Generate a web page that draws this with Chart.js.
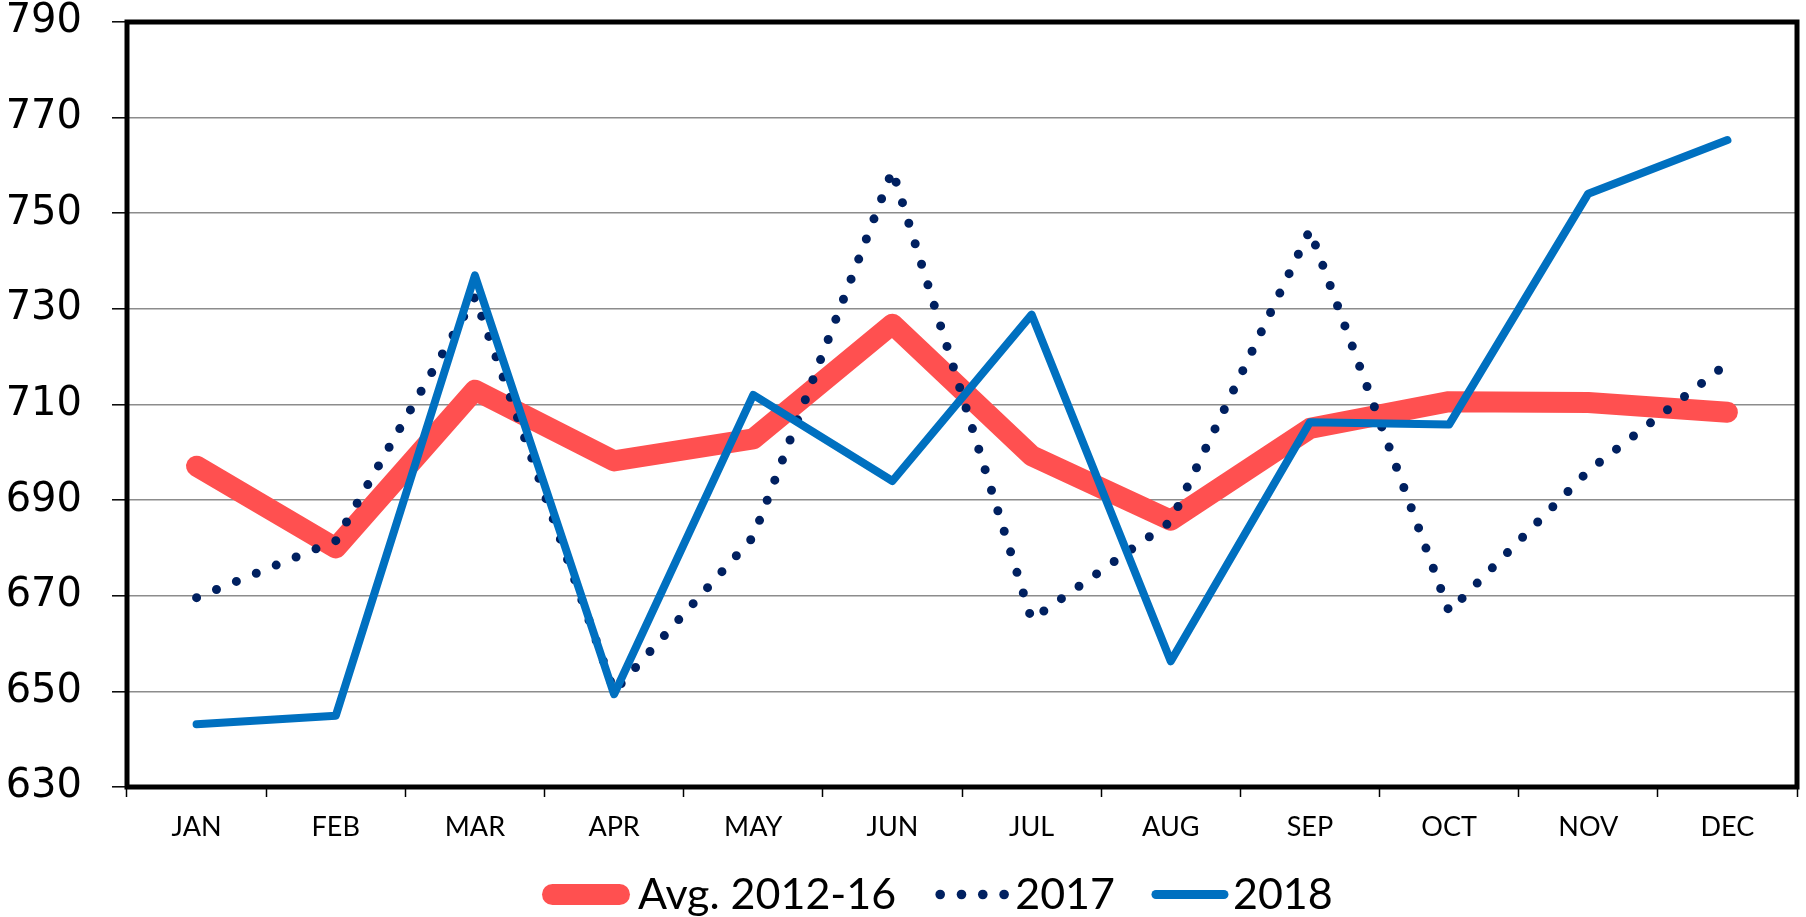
<!DOCTYPE html>
<html>
<head>
<meta charset="utf-8">
<script src="https://cdn.jsdelivr.net/npm/chart.js@4/dist/chart.umd.min.js"></script>
<style>
  html, body { margin: 0; padding: 0; background: #fff; }
  #c { display: block; }
</style>
</head>
<body>
<canvas id="c" width="1806" height="917"></canvas>
<script>
// ---- data ----
const months = ['JAN', 'FEB', 'MAR', 'APR', 'MAY', 'JUN', 'JUL', 'AUG', 'SEP', 'OCT', 'NOV', 'DEC'];
const seriesNames = ['Avg. 2012-16', '2017', '2018'];
const avg2012_16 = [697.1, 680.0, 713.0, 698.2, 702.8, 726.8, 699.3, 685.8, 705.0, 710.6, 710.4, 708.4];
const y2017 = [669.6, 681.5, 732.5, 650.0, 682.3, 759.0, 665.0, 685.5, 746.5, 666.7, 696.1, 718.6];
const y2018 = [643.1, 644.9, 737.0, 649.4, 712.0, 694.0, 728.8, 656.3, 706.3, 705.8, 754.1, 765.3];
const yMin = 630, yMax = 790, yStep = 20;

// ---- styles ----
const RED = '#FF5050';
const NAVY = '#002060';
const BLUE = '#0070C0';

const framePlugin = {
  id: 'frame',
  afterDraw(chart) {
    const { ctx, chartArea: a } = chart;
    ctx.save();
    ctx.strokeStyle = '#000';
    ctx.lineWidth = 5;
    ctx.strokeRect(a.left, a.top, a.right - a.left, a.bottom - a.top);
    ctx.restore();
  }
};

const legendPlugin = {
  id: 'customLegend',
  afterDraw(chart) {
    const ctx = chart.ctx;
    const ds = chart.data.datasets;
    const cy = 894.5;
    const baseline = 909;
    ctx.save();
    ctx.font = '43px Lato, "Open Sans", sans-serif';
    ctx.fillStyle = '#000';
    ctx.textBaseline = 'alphabetic';
    let x = 542;
    const drawText = (t) => {
      ctx.fillText(t, x, baseline);
      x += ctx.measureText(t).width;
    };
    // item 1: thick red
    ctx.lineCap = 'round';
    ctx.strokeStyle = ds[0].borderColor;
    ctx.lineWidth = ds[0].borderWidth;
    ctx.beginPath();
    ctx.moveTo(x + 10.5, cy);
    ctx.lineTo(x + 88 - 10.5, cy);
    ctx.stroke();
    x += 96;
    drawText(ds[0].label);
    x += 39;
    // item 2: dots
    ctx.fillStyle = ds[1].borderColor;
    for (let i = 0; i < 4; i++) {
      ctx.beginPath();
      ctx.arc(x + 5 + i * 21.3, cy, 4.8, 0, Math.PI * 2);
      ctx.fill();
    }
    ctx.fillStyle = '#000';
    x += 80;
    drawText(ds[1].label);
    x += 36;
    // item 3: blue line
    ctx.strokeStyle = ds[2].borderColor;
    ctx.lineWidth = ds[2].borderWidth + 1;
    ctx.beginPath();
    ctx.moveTo(x + 5, cy);
    ctx.lineTo(x + 78 - 5, cy);
    ctx.stroke();
    x += 82;
    drawText(ds[2].label);
    ctx.restore();
  }
};

new Chart(document.getElementById('c'), {
  type: 'line',
  data: {
    labels: months,
    datasets: [
      {
        label: seriesNames[0],
        data: avg2012_16,
        borderColor: RED,
        backgroundColor: RED,
        borderWidth: 21,
        borderCapStyle: 'round',
        borderJoinStyle: 'round',
        pointRadius: 0,
        tension: 0,
        order: 3
      },
      {
        label: seriesNames[1],
        data: y2017,
        borderColor: NAVY,
        backgroundColor: NAVY,
        borderWidth: 9,
        borderDash: [0, 21.5],
        borderCapStyle: 'round',
        borderJoinStyle: 'round',
        pointRadius: 0,
        tension: 0,
        order: 2
      },
      {
        label: seriesNames[2],
        data: y2018,
        borderColor: BLUE,
        backgroundColor: BLUE,
        borderWidth: 8,
        borderCapStyle: 'round',
        borderJoinStyle: 'round',
        pointRadius: 0,
        tension: 0,
        order: 1
      }
    ]
  },
  options: {
    responsive: false,
    animation: false,
    devicePixelRatio: 1,
    layout: { padding: { left: 0, right: 9, top: 22, bottom: 0 } },
    plugins: {
      legend: { display: false },
      tooltip: { enabled: false }
    },
    scales: {
      x: {
        type: 'category',
        offset: true,
        grid: {
          display: true,
          drawOnChartArea: false,
          drawTicks: true,
          tickLength: 10,
          tickColor: '#000',
          tickWidth: 1.5,
          offset: true
        },
        border: { display: false },
        ticks: {
          color: '#000',
          font: { family: 'Lato, "Open Sans", sans-serif', size: 27 },
          padding: 14,
          maxRotation: 0,
          autoSkip: false
        },
        afterFit(scale) { scale.height = 130; }
      },
      y: {
        min: yMin,
        max: yMax,
        grid: {
          color: '#8c8c8c',
          lineWidth: 1.6,
          tickLength: 15,
          tickColor: '#000',
          tickWidth: 1.5
        },
        border: { display: false },
        ticks: {
          stepSize: yStep,
          color: '#000',
          font: { family: '"DejaVu Sans", sans-serif', size: 40 },
          padding: 30
        },
        afterFit(scale) {
          scale.width = 127;
          scale.paddingTop = 0;
          scale.paddingBottom = 0;
        }
      }
    }
  },
  plugins: [framePlugin, legendPlugin]
});
</script>
</body>
</html>
